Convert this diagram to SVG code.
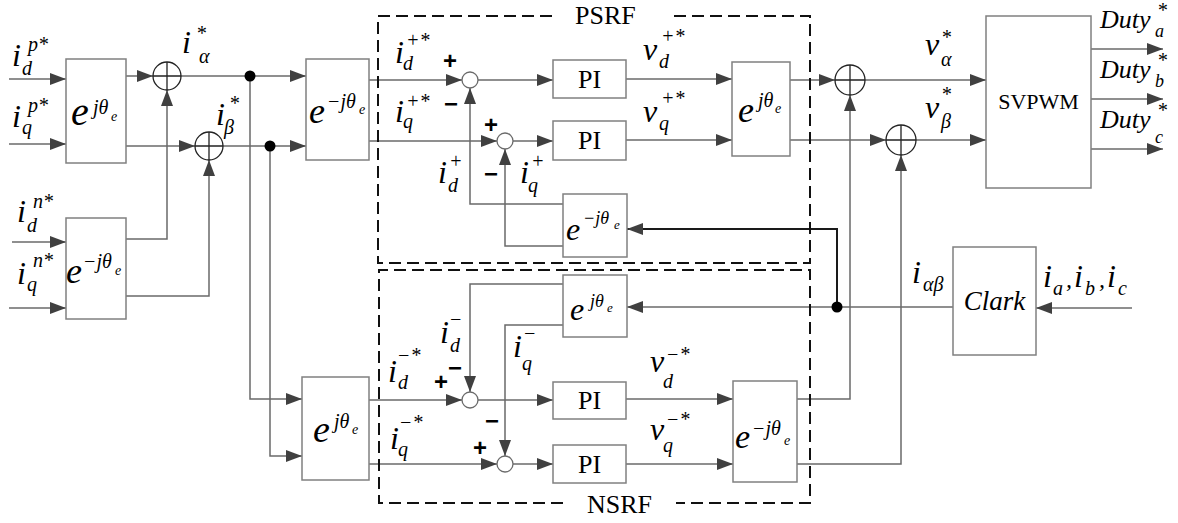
<svg xmlns="http://www.w3.org/2000/svg" width="1178" height="523" viewBox="0 0 1178 523">
<style>
.box{fill:#fff;stroke:#808080;stroke-width:1.5}
.ln{fill:none;stroke:#6a6a6a;stroke-width:1.5}
.lnk{fill:none;stroke:#1a1a1a;stroke-width:2}
.dash{fill:none;stroke:#111;stroke-width:2;stroke-dasharray:12 6}
.sum{fill:#fff;stroke:#222;stroke-width:1.3}
.sc{fill:#fff;stroke:#6a6a6a;stroke-width:1.3}
.dot{fill:#000}
text{font-family:"Liberation Serif","Times New Roman",serif;fill:#000}
.m{font-style:italic}
.b30{font-size:32px}
.s20{font-size:20px}
.s14{font-size:14px}
.sg{font-family:"Liberation Sans",Arial,sans-serif;font-weight:bold;font-size:24px;text-anchor:middle}
.t26{font-size:26px}
.pi{font-size:26px;text-anchor:middle}
.duty{font-size:26px}
</style>
<defs>
<marker id="ar" markerUnits="userSpaceOnUse" markerWidth="16" markerHeight="12" refX="16" refY="6" orient="auto">
<path d="M0,0 L16,6 L0,12 z" fill="#404040"/>
</marker>
</defs>

<g id="connectors">
<path class="ln" d="M9,79 H66" marker-end="url(#ar)"/>
<path class="ln" d="M9,144 H66" marker-end="url(#ar)"/>
<path class="ln" d="M12,242 H66" marker-end="url(#ar)"/>
<path class="ln" d="M9,308 H66" marker-end="url(#ar)"/>
<path class="ln" d="M126,76 H153" marker-end="url(#ar)"/>
<path class="ln" d="M126,146 H195" marker-end="url(#ar)"/>
<path class="ln" d="M126,239 H167 V90" marker-end="url(#ar)"/>
<path class="ln" d="M126,296 H209 V160" marker-end="url(#ar)"/>
<path class="ln" d="M181,76 H306" marker-end="url(#ar)"/>
<path class="ln" d="M223,146 H306" marker-end="url(#ar)"/>
<path class="ln" d="M250,76 V399 H302" marker-end="url(#ar)"/>
<path class="ln" d="M270,146 V456 H302" marker-end="url(#ar)"/>
<path class="ln" d="M369,80 H462" marker-end="url(#ar)"/>
<path class="ln" d="M369,141 H497" marker-end="url(#ar)"/>
<path class="ln" d="M478,80 H553" marker-end="url(#ar)"/>
<path class="ln" d="M513,141 H553" marker-end="url(#ar)"/>
<path class="ln" d="M626,79 H732" marker-end="url(#ar)"/>
<path class="ln" d="M626,140 H732" marker-end="url(#ar)"/>
<path class="ln" d="M790,80 H835" marker-end="url(#ar)"/>
<path class="ln" d="M790,140 H886" marker-end="url(#ar)"/>
<path class="ln" d="M865,80 H986" marker-end="url(#ar)"/>
<path class="ln" d="M916,140 H986" marker-end="url(#ar)"/>
<path class="ln" d="M1091,49 H1163" marker-end="url(#ar)"/>
<path class="ln" d="M1091,99 H1163" marker-end="url(#ar)"/>
<path class="ln" d="M1091,149 H1163" marker-end="url(#ar)"/>
<path class="ln" d="M563,204 H470 V88" marker-end="url(#ar)"/>
<path class="ln" d="M563,246 H505 V149" marker-end="url(#ar)"/>
<path class="lnk" d="M837,307 V229 H627" marker-end="url(#ar)"/>
<path class="ln" d="M369,400 H462" marker-end="url(#ar)"/>
<path class="ln" d="M369,464 H497" marker-end="url(#ar)"/>
<path class="ln" d="M478,400 H553" marker-end="url(#ar)"/>
<path class="ln" d="M513,464 H553" marker-end="url(#ar)"/>
<path class="ln" d="M626,399 H733" marker-end="url(#ar)"/>
<path class="ln" d="M626,464 H733" marker-end="url(#ar)"/>
<path class="ln" d="M797,399 H850 V95" marker-end="url(#ar)"/>
<path class="ln" d="M797,464 H901 V155" marker-end="url(#ar)"/>
<path class="ln" d="M953,307 H627" marker-end="url(#ar)"/>
<path class="ln" d="M563,284 H470 V392" marker-end="url(#ar)"/>
<path class="ln" d="M563,325 H505 V456" marker-end="url(#ar)"/>
<path class="ln" d="M1132,308 H1036" marker-end="url(#ar)"/>
<circle class="dot" cx="250" cy="76" r="5.5"/>
<circle class="dot" cx="270" cy="146" r="5.5"/>
<circle class="dot" cx="837" cy="307" r="5.5"/>
</g>

<g id="psrf-frame">
<path class="dash" d="M552,16 H378 V263 H810 V16 H669"/>
<text x="575" y="24" class="t26">PSRF</text>
</g>
<g id="nsrf-frame">
<path class="dash" d="M563,503 H379 V270 H810 V503 H676"/>
<text x="587" y="513" class="t26">NSRF</text>
</g>

<g id="sumA"><circle class="sum" cx="167" cy="76" r="14"/><path class="sum" d="M153,76 H181 M167,62 V90"/></g>
<g id="sumB"><circle class="sum" cx="209" cy="146" r="14"/><path class="sum" d="M195,146 H223 M209,132 V160"/></g>
<g id="sumVa"><circle class="sum" cx="850" cy="80" r="15"/><path class="sum" d="M835,80 H865 M850,65 V95"/></g>
<g id="sumVb"><circle class="sum" cx="901" cy="140" r="15"/><path class="sum" d="M886,140 H916 M901,125 V155"/></g>
<g id="cmpP1"><circle class="sc" cx="470" cy="80" r="8"/></g>
<g id="cmpP2"><circle class="sc" cx="505" cy="141" r="8"/></g>
<g id="cmpN1"><circle class="sc" cx="470" cy="400" r="8"/></g>
<g id="cmpN2"><circle class="sc" cx="505" cy="464" r="8"/></g>

<g id="boxA"><rect class="box" x="66" y="59" width="60" height="104"/>
<text class="m"><tspan x="71" y="125" font-size="40">e</tspan><tspan x="93" y="114" class="s20">jθ</tspan><tspan x="111" y="121" class="s14">e</tspan></text></g>
<g id="boxB"><rect class="box" x="66" y="218" width="60" height="101"/>
<text class="m"><tspan x="66" y="283" font-size="36">e</tspan><tspan x="83" y="268" class="s20">−jθ</tspan><tspan x="115" y="275" class="s14">e</tspan></text></g>
<g id="boxC"><rect class="box" x="306" y="59" width="63" height="101"/>
<text class="m"><tspan x="309" y="123" font-size="36">e</tspan><tspan x="327" y="108" class="s20">−jθ</tspan><tspan x="359" y="114" class="s14">e</tspan></text></g>
<g id="boxE"><rect class="box" x="732" y="62" width="58" height="94"/>
<text class="m"><tspan x="738" y="122" font-size="36">e</tspan><tspan x="758" y="107" class="s20">jθ</tspan><tspan x="775" y="113" class="s14">e</tspan></text></g>
<g id="boxF"><rect class="box" x="563" y="194" width="64" height="63"/>
<text class="m"><tspan x="566" y="240" font-size="32">e</tspan><tspan x="583" y="224" font-size="18">−jθ</tspan><tspan x="614" y="229" font-size="13">e</tspan></text></g>
<g id="boxH"><rect class="box" x="563" y="275" width="64" height="62"/>
<text class="m"><tspan x="570" y="320" font-size="32">e</tspan><tspan x="590" y="307" font-size="18">jθ</tspan><tspan x="607" y="312" font-size="13">e</tspan></text></g>
<g id="boxD"><rect class="box" x="302" y="377" width="67" height="103"/>
<text class="m"><tspan x="313" y="442" font-size="38">e</tspan><tspan x="334" y="428" class="s20">jθ</tspan><tspan x="352" y="434" class="s14">e</tspan></text></g>
<g id="boxG"><rect class="box" x="733" y="381" width="64" height="101"/>
<text class="m"><tspan x="735" y="448" font-size="34">e</tspan><tspan x="752" y="435" class="s20">−jθ</tspan><tspan x="784" y="445" class="s14">e</tspan></text></g>

<g id="pi1"><rect class="box" x="553" y="60" width="73" height="38"/><text class="pi" x="589.5" y="88">PI</text></g>
<g id="pi2"><rect class="box" x="553" y="121" width="73" height="39"/><text class="pi" x="589.5" y="149">PI</text></g>
<g id="pi3"><rect class="box" x="553" y="382" width="73" height="37"/><text class="pi" x="589.5" y="409">PI</text></g>
<g id="pi4"><rect class="box" x="553" y="445" width="73" height="38"/><text class="pi" x="589.5" y="473">PI</text></g>

<g id="svpwm"><rect class="box" x="986" y="16" width="105" height="172"/><text x="1038.5" y="109" font-size="22" text-anchor="middle">SVPWM</text></g>
<g id="clark"><rect class="box" x="953" y="247" width="83" height="108"/><text x="994.5" y="310" class="m" font-size="27" text-anchor="middle">Clark</text></g>

<g id="labels" class="m">
<text><tspan x="12" y="66" class="b30">i</tspan><tspan x="28" y="51" class="s20">p*</tspan><tspan x="22" y="75" class="s20">d</tspan></text>
<text><tspan x="12" y="127" class="b30">i</tspan><tspan x="28" y="112" class="s20">p*</tspan><tspan x="22" y="134" class="s20">q</tspan></text>
<text><tspan x="17" y="222" class="b30">i</tspan><tspan x="33" y="208" class="s20">n*</tspan><tspan x="27" y="232" class="s20">d</tspan></text>
<text><tspan x="17" y="284" class="b30">i</tspan><tspan x="33" y="267" class="s20">n*</tspan><tspan x="27" y="291" class="s20">q</tspan></text>
<text><tspan x="182" y="53" class="b30">i</tspan><tspan x="196" y="40" class="s20">*</tspan><tspan x="199" y="63" class="s20">α</tspan></text>
<text><tspan x="216" y="125" class="b30">i</tspan><tspan x="229" y="110" class="s20">*</tspan><tspan x="224" y="134" class="s20">β</tspan></text>
<text><tspan x="395" y="63" class="b30">i</tspan><tspan x="406" y="47" class="s20">+*</tspan><tspan x="403" y="70" class="s20">d</tspan></text>
<text><tspan x="395" y="122" class="b30">i</tspan><tspan x="406" y="108" class="s20">+*</tspan><tspan x="403" y="128" class="s20">q</tspan></text>
<text><tspan x="438" y="183" class="b30">i</tspan><tspan x="449" y="168" class="s20">+</tspan><tspan x="448" y="192" class="s20">d</tspan></text>
<text><tspan x="520" y="183" class="b30">i</tspan><tspan x="531" y="168" class="s20">+</tspan><tspan x="528" y="192" class="s20">q</tspan></text>
<text><tspan x="643" y="60" class="b30">v</tspan><tspan x="661" y="43" class="s20">+*</tspan><tspan x="659" y="68" class="s20">d</tspan></text>
<text><tspan x="643" y="122" class="b30">v</tspan><tspan x="661" y="105" class="s20">+*</tspan><tspan x="659" y="130" class="s20">q</tspan></text>
<text><tspan x="925" y="55" class="b30">v</tspan><tspan x="941" y="44" class="s20">*</tspan><tspan x="941" y="66" class="s20">α</tspan></text>
<text><tspan x="925" y="118" class="b30">v</tspan><tspan x="941" y="101" class="s20">*</tspan><tspan x="941" y="128" class="s20">β</tspan></text>
<text><tspan x="1100" y="28" class="duty">Duty</tspan><tspan x="1157" y="17" class="s20">*</tspan><tspan x="1155" y="37" font-size="18">a</tspan></text>
<text><tspan x="1100" y="78" class="duty">Duty</tspan><tspan x="1157" y="67" class="s20">*</tspan><tspan x="1155" y="87" font-size="18">b</tspan></text>
<text><tspan x="1100" y="128" class="duty">Duty</tspan><tspan x="1157" y="117" class="s20">*</tspan><tspan x="1155" y="143" font-size="18">c</tspan></text>
<text><tspan x="440" y="343" class="b30">i</tspan><tspan x="449" y="326" class="s20">−</tspan><tspan x="450" y="352" class="s20">d</tspan></text>
<text><tspan x="513" y="357" class="b30">i</tspan><tspan x="523" y="340" class="s20">−</tspan><tspan x="522" y="370" class="s20">q</tspan></text>
<text><tspan x="388" y="382" class="b30">i</tspan><tspan x="397" y="362" class="s20">−*</tspan><tspan x="398" y="389" class="s20">d</tspan></text>
<text><tspan x="390" y="449" class="b30">i</tspan><tspan x="399" y="429" class="s20">−*</tspan><tspan x="398" y="456" class="s20">q</tspan></text>
<text><tspan x="650" y="372" class="b30">v</tspan><tspan x="666" y="361" class="s20">−*</tspan><tspan x="663" y="388" class="s20">d</tspan></text>
<text><tspan x="650" y="440" class="b30">v</tspan><tspan x="666" y="426" class="s20">−*</tspan><tspan x="663" y="452" class="s20">q</tspan></text>
<text><tspan x="912" y="283" class="b30">i</tspan><tspan x="923" y="291" class="s20">αβ</tspan></text>
<text><tspan x="1043" y="287" class="b30">i</tspan><tspan x="1053" y="295" class="s20">a</tspan><tspan x="1066" y="287" font-size="24">,</tspan><tspan x="1074" y="287" class="b30">i</tspan><tspan x="1085" y="295" class="s20">b</tspan><tspan x="1099" y="287" font-size="24">,</tspan><tspan x="1107" y="287" class="b30">i</tspan><tspan x="1118" y="295" class="s20">c</tspan></text>
</g>

<g id="signs">
<text class="sg" x="450" y="69">+</text>
<text class="sg" x="451" y="112">−</text>
<text class="sg" x="491" y="133">+</text>
<text class="sg" x="491" y="182">−</text>
<text class="sg" x="441" y="390">+</text>
<text class="sg" x="455" y="376">−</text>
<text class="sg" x="480" y="456">+</text>
<text class="sg" x="492" y="429">−</text>
</g>
</svg>
